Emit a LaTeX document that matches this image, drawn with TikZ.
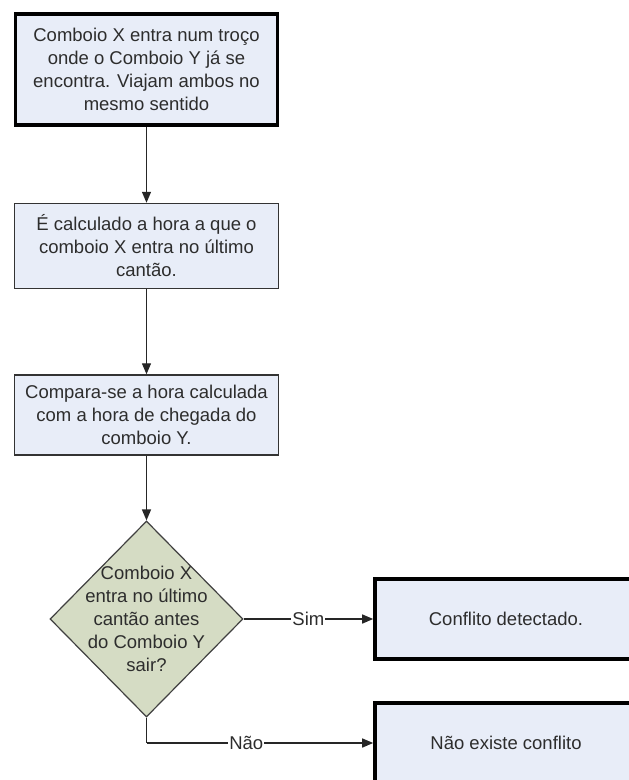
\documentclass[tikz,border=0pt]{standalone}
\usepackage{fontspec}
\setmainfont{Liberation Sans}
\usetikzlibrary{arrows.meta,shapes.geometric}
\definecolor{boxfill}{RGB}{232,237,248}
\definecolor{decfill}{RGB}{213,220,196}
\definecolor{txt}{RGB}{45,45,45}
\tikzset{
  base/.style={font=\fontsize{18.5}{23}\selectfont, text=txt, align=center, inner sep=0pt},
  stepbox/.style={base, draw=black!80, fill=boxfill, line width=1.5pt, minimum width=264pt},
  termbox/.style={base, draw=black, fill=boxfill, line width=3.6pt, minimum width=262pt},
  decision/.style={diamond, draw=black!75, fill=decfill, line width=1.2pt, inner sep=0pt, minimum width=193pt, minimum height=196pt},
  flow/.style={line width=1.4pt, draw=black!85, -{Triangle[length=11pt,width=9pt]}},
  lbl/.style={base, fill=white, inner sep=1pt}
}
\begin{document}
\begin{tikzpicture}[x=1pt,y=-1pt]
\clip (0,0) rectangle (629,780);
\fill[white] (0,0) rectangle (629,780);

% process steps
\node[termbox, minimum height=111pt] (start) at (146.5,69.5)
  {Comboio X entra num troço\\onde o Comboio Y já se\\encontra. Viajam ambos no\\mesmo sentido};
\node[stepbox, minimum height=85pt] (calc) at (146.5,246)
  {É calculado a hora a que o\\comboio X entra no último\\cantão.};
\node[stepbox, minimum height=80pt] (cmp) at (146.5,415)
  {Compara-se a hora calculada\\com a hora de chegada do\\comboio Y.};

% decision
\node[decision] (dec) at (146.5,619) {};
\node[base] (dectext) at (146.5,619)
  {Comboio X\\entra no último\\cantão antes\\do Comboio Y\\sair?};

% outcomes
\node[termbox, minimum width=262pt, minimum height=80pt] (yes) at (506,619) {Conflito detectado.};
\node[termbox, minimum width=262pt, minimum height=80pt] (no) at (506,743) {Não existe conflito};

% connectors
\draw[flow] (start.south) -- (calc.north);
\draw[flow] (calc.south) -- (cmp.north);
\draw[flow] (cmp.south) -- (dec.north);
\draw[flow] (dec.east) -- node[lbl, pos=0.5] (simlbl) {Sim} (yes.west);
\coordinate (corner) at (dec.south |- no.west);
\draw[line width=1.4pt, draw=black!85] (dec.south) -- (corner);
\draw[flow] (corner) -- node[lbl, pos=0.44] (naolbl) {Não} (no.west);
\end{tikzpicture}
\end{document}
